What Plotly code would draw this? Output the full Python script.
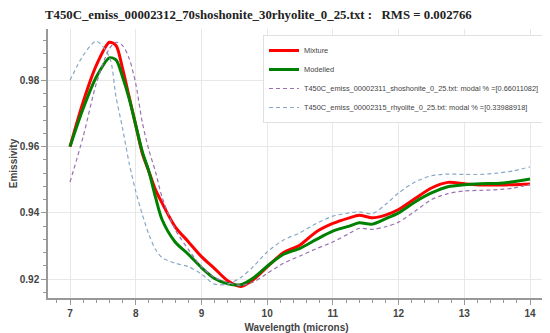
import plotly.graph_objects as go

wavelength = [7.0, 7.2, 7.4, 7.6, 7.7, 7.8, 7.9, 8.0, 8.1, 8.2, 8.3, 8.4, 8.6, 8.8,
              9.0, 9.2, 9.4, 9.6, 9.8, 10.0, 10.25, 10.5, 10.75, 11.0, 11.25, 11.4,
              11.6, 11.8, 12.0, 12.25, 12.5, 12.75, 13.0, 13.25, 13.5, 13.75, 14.0]

mixture = [0.960, 0.9735, 0.9845, 0.9915, 0.9905, 0.9835, 0.975, 0.9665, 0.958, 0.9525,
           0.947, 0.943, 0.9358, 0.9313, 0.9268, 0.9232, 0.9195, 0.9178, 0.920, 0.9237,
           0.928, 0.9303, 0.9343, 0.9368, 0.9385, 0.9393, 0.9385, 0.9393, 0.941, 0.9443,
           0.9475, 0.9492, 0.9488, 0.9484, 0.9484, 0.9485, 0.9487]

modelled = [0.960, 0.9715, 0.981, 0.9868, 0.9862, 0.981, 0.9745, 0.9665, 0.9585, 0.9525,
            0.9448, 0.938, 0.9312, 0.9275, 0.9235, 0.9202, 0.9186, 0.9183, 0.9205, 0.9239,
            0.9275, 0.9293, 0.932, 0.9345, 0.936, 0.937, 0.9366, 0.9382, 0.940, 0.9433,
            0.946, 0.9479, 0.9485, 0.9488, 0.9489, 0.9494, 0.9502]

shoshonite = [0.9493, 0.963, 0.979, 0.9896, 0.9915, 0.9905, 0.9866, 0.979, 0.9673, 0.959,
              0.9525, 0.9448, 0.935, 0.929, 0.9238, 0.9205, 0.919, 0.9181, 0.9192, 0.9217,
              0.9248, 0.927, 0.9292, 0.9312, 0.9338, 0.9353, 0.935, 0.9358, 0.9372, 0.9405,
              0.944, 0.9458, 0.9466, 0.9468, 0.947, 0.9475, 0.9486]

rhyolite = [0.980, 0.9875, 0.9918, 0.987, 0.975, 0.9655, 0.955, 0.9465, 0.9395, 0.9335,
            0.929, 0.9265, 0.9248, 0.9238, 0.9215, 0.9185, 0.9185, 0.9205, 0.924, 0.9282,
            0.9318, 0.934, 0.9368, 0.939, 0.940, 0.9403, 0.9398, 0.9425, 0.946, 0.9493,
            0.9512, 0.9517, 0.9516, 0.9516, 0.952, 0.9527, 0.9539]

names = ["Mixture", "Modelled",
         "T450C_emiss_00002311_shoshonite_0_25.txt: modal % =[0.66011082]",
         "T450C_emiss_00002315_rhyolite_0_25.txt: modal % =[0.33988918]"]
title_text = "T450C_emiss_00002312_70shoshonite_30rhyolite_0_25.txt :   RMS = 0.002766"

# the page body has an 8px margin, so the figure is sized/offset to compensate
W, H = 542, 325

fig = go.Figure()
fig.add_trace(go.Scatter(x=wavelength, y=mixture, name=names[0], mode="lines",
                         line=dict(color="#ff0000", width=3, shape="spline", smoothing=0.8)))
fig.add_trace(go.Scatter(x=wavelength, y=modelled, name=names[1], mode="lines",
                         line=dict(color="#008000", width=3, shape="spline", smoothing=0.8)))
fig.add_trace(go.Scatter(x=wavelength, y=shoshonite, name=names[2], mode="lines",
                         line=dict(color="#9b72b0", width=1.2, dash="4px,3px", shape="spline", smoothing=0.8)))
fig.add_trace(go.Scatter(x=wavelength, y=rhyolite, name=names[3], mode="lines",
                         line=dict(color="#88a8c8", width=1.2, dash="4px,3px", shape="spline", smoothing=0.8)))

axis_common = dict(showline=True, linecolor="#999", linewidth=1.5, ticks="outside",
                   tickcolor="#999", ticklen=5, tickwidth=1, showgrid=True,
                   gridcolor="#e8e8e8", gridwidth=1, zeroline=False, automargin=False,
                   tickfont=dict(family="Liberation Sans", size=10, color="#444", weight="bold"))

fig.update_layout(
    width=W, height=H,
    margin=dict(l=40, r=5, t=21, b=35),
    paper_bgcolor="white", plot_bgcolor="white",
    title=dict(text=title_text, xref="container", x=37/W, xanchor="left",
               yref="container", y=1 - 7/H, yanchor="middle",
               font=dict(family="Liberation Serif, Times New Roman, serif", size=12.8,
                         color="#222", weight="bold")),
    xaxis=dict(range=[6.665, 14.228], dtick=1, tick0=7,
               minor=dict(ticks="outside", dtick=0.2, ticklen=3, tickcolor="#999", showgrid=False),
               title=dict(text="Wavelength (microns)", standoff=8,
                          font=dict(family="Liberation Sans", size=10, color="#444", weight="bold")),
               **axis_common),
    yaxis=dict(range=[0.9143, 0.9955], dtick=0.02, tick0=0.92, tickformat=".2f",
               minor=dict(ticks="outside", dtick=0.004, ticklen=3, tickcolor="#999", showgrid=False),
               title=dict(text="Emissivity", standoff=0,
                          font=dict(family="Liberation Sans", size=10, color="#444", weight="bold")),
               **axis_common),
    legend=dict(x=1, xanchor="right", y=1 - 6/269, yanchor="top",
                bgcolor="white", bordercolor="#e0e0e0", borderwidth=1,
                font=dict(family="Liberation Sans", size=7.4, color="#444"),
                tracegroupgap=0),
    showlegend=True,
)

fig.write_html("out.html")
